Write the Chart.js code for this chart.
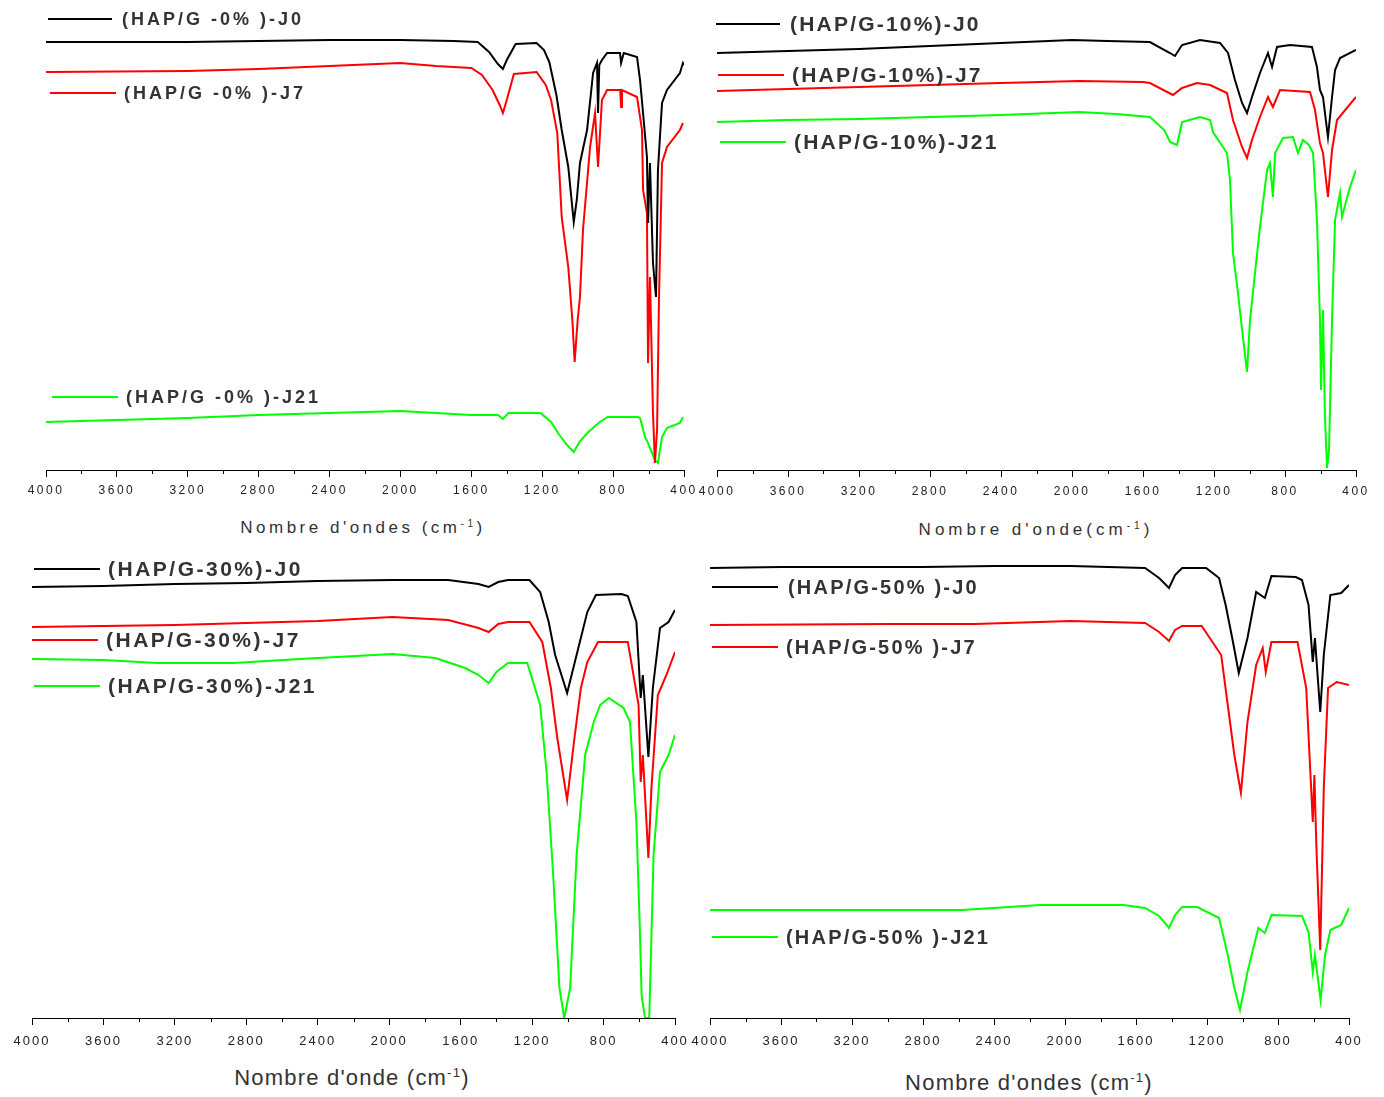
<!DOCTYPE html>
<html>
<head>
<meta charset="utf-8">
<script src="https://cdn.jsdelivr.net/npm/chart.js@4.4.1/dist/chart.umd.min.js"></script>
<style>
  body { margin: 0; background: #fff; width: 1384px; height: 1097px; position: relative; overflow: hidden;
         font-family: "Liberation Sans", Arial, sans-serif; }
  canvas { position: absolute; }
  .leg-line { position: absolute; height: 0; border-top: 2px solid #000; }
  .leg-text { position: absolute; font-weight: bold; color: #333; white-space: nowrap; line-height: 24px; }
  .xtitle { position: absolute; color: #333; white-space: nowrap; transform: translate(-50%, -50%); }
  .xtitle sup { font-size: 60%; }
</style>
</head>
<body>
<script>
// FTIR spectra, transmittance (a.u.) vs wavenumber (cm-1)

// HAP/G-0%
const w0_J0 = [4000,3600,3200,2800,2400,2000,1700,1564,1500,1450,1422,1400,1350,1232,1190,1160,1120,1090,1053,1022,1005,987,947,913,891,885,878,863,834,761,755,740,665,648,631,609,603,592,575,558,547,524,496,423,406,400];
const t0_J0 = [428,428,428,429,430,430,429,428,418,406,401,410,426,427,420,408,375,340,303,248,270,307,340,397,407,357,405,410,417,417,407,417,413,390,357,313,247,307,207,173,300,367,380,397,407,405];
const w0_J7 = [4000,3200,2800,2400,2000,1800,1600,1540,1480,1440,1422,1400,1360,1232,1180,1150,1115,1090,1053,1030,1017,1000,987,970,930,902,885,863,834,760,755,750,665,637,631,609,603,592,575,564,552,541,524,496,423,406];
const t0_J7 = [398,399,401,404,407,404,402,395,380,365,357,370,396,398,385,370,337,253,203,150,108,150,173,240,323,357,303,370,380,380,363,380,373,340,280,257,107,193,57,7,40,173,307,323,340,347];
const w0_J21 = [4000,3600,3200,2800,2400,2000,1800,1600,1450,1422,1390,1210,1150,1111,1060,1022,990,946,875,830,660,648,620,603,580,564,547,524,496,423,406];
const t0_J21 = [48,50,52,55,57,59,57,55,55,51,57,57,48,37,25,18,28,37,48,53,53,52,33,27,17,10,7,33,42,47,53];

// HAP/G-10%
const w10_J0 = [4000,3600,3200,2800,2400,2000,1800,1561,1448,1420,1380,1279,1166,1121,1082,1042,1014,986,941,896,873,845,772,648,620,603,586,558,535,518,490,400];
const t10_J0 = [417,419,421,424,427,430,429,428,417,414,425,430,427,417,390,367,357,373,397,417,403,423,425,423,403,380,373,333,373,400,412,420];
const w10_J7 = [4000,3600,3200,2800,2400,1960,1600,1561,1431,1380,1296,1222,1127,1093,1042,1014,986,941,896,868,828,659,631,603,586,558,535,507,400];
const t10_J7 = [379,381,383,385,387,389,388,387,375,382,387,385,377,350,323,312,330,353,373,363,380,378,360,327,317,273,320,350,373];
const w10_J21 = [4000,3600,3200,2800,2400,1960,1750,1561,1480,1448,1408,1380,1279,1222,1206,1127,1110,1093,1065,1037,1014,997,969,941,901,885,868,856,811,755,727,699,665,642,620,603,597,586,575,563,552,535,518,490,479,434,400];
const t10_J21 = [348,350,351,353,355,358,356,353,340,328,325,348,353,350,338,317,290,217,177,133,98,150,197,243,300,307,273,317,332,333,317,330,325,317,250,150,80,160,53,2,20,150,250,277,253,283,300];

// HAP/G-30%
const w30_J0 = [4000,3600,3200,2800,2400,1982,1670,1500,1443,1390,1335,1215,1155,1107,1071,1004,951,891,843,700,664,616,592,580,549,524,484,436,400];
const t30_J0 = [431,432,434,435,437,438,438,434,431,436,438,438,426,396,363,325,363,406,423,424,422,396,320,343,261,330,390,396,408];
const w30_J7 = [4000,3600,3200,2800,2400,1982,1670,1500,1443,1390,1335,1215,1143,1095,1059,1004,963,927,891,831,664,604,592,580,549,532,496,448,400];
const t30_J7 = [391,392,393,395,397,401,398,390,386,394,396,396,376,330,280,218,280,330,356,376,376,313,236,263,160,230,323,343,366];
const w30_J21 = [4000,3600,3300,2870,2500,1982,1742,1575,1500,1443,1400,1335,1227,1155,1119,1083,1047,1020,987,951,903,855,819,771,688,652,616,597,587,568,544,520,484,436,400];
const t30_J21 = [359,358,355,355,359,364,360,350,343,335,346,355,355,313,246,146,30,0,30,163,263,296,313,320,310,296,196,90,23,0,0,163,246,263,283];

// HAP/G-50%
const w50_J0 = [4000,3600,3200,2800,2400,1967,1549,1470,1414,1380,1340,1205,1132,1095,1058,1021,972,923,874,837,700,665,628,604,592,562,542,505,444,400];
const t50_J0 = [450,451,451,451,452,452,450,440,430,443,450,450,440,413,380,345,380,426,420,442,441,438,413,356,380,306,363,423,425,433];
const w50_J7 = [4000,3000,2507,1967,1549,1470,1414,1380,1340,1230,1120,1083,1046,1009,972,923,886,869,837,690,641,604,595,584,562,542,518,469,400];
const t50_J7 = [393,394,394,397,395,386,377,388,392,392,363,313,263,225,296,353,370,346,376,376,330,196,243,173,68,230,330,336,333];
const w50_J21 = [4000,3400,2580,2140,1845,1672,1549,1470,1414,1380,1340,1255,1132,1083,1046,1014,972,911,874,837,665,628,604,592,560,535,505,444,400];
const t50_J21 = [108,108,108,113,113,113,110,102,90,103,111,111,100,63,30,8,46,90,85,103,102,86,46,63,18,63,88,93,110];

const COLORS = ['#000000', '#ff0000', '#00ff00'];

// layout: plot = chart area in page pixels, legend = [lineX1, lineX2, y, textX]
const panels = [
  { plot: { left: 46, right: 684, top: 8, bottom: 470 }, yMax: 462, tickSize: 12, tickSpacing: '2.5px', tickPad: 6,
    series: [['(HAP/G -0% )-J0', w0_J0, t0_J0], ['(HAP/G -0% )-J7', w0_J7, t0_J7], ['(HAP/G -0% )-J21', w0_J21, t0_J21]],
    legend: [[48, 112, 19, 122], [50, 116, 93, 124], [52, 118, 397, 126]], legendFont: [18, '3px'],
    title: { html: "Nombre d'ondes (cm<sup>-1</sup>)", x: 363, y: 528, size: 17, spacing: '3.5px' } },
  { plot: { left: 717, right: 1356, top: 8, bottom: 470 }, yMax: 462, tickSize: 12, tickSpacing: '2.5px', tickPad: 7,
    series: [['(HAP/G-10%)-J0', w10_J0, t10_J0], ['(HAP/G-10%)-J7', w10_J7, t10_J7], ['(HAP/G-10%)-J21', w10_J21, t10_J21]],
    legend: [[716, 780, 24, 790], [718, 784, 75, 792], [720, 786, 142, 794]], legendFont: [21, '2.2px'],
    title: { html: "Nombre d'onde(cm<sup>-1</sup>)", x: 1036, y: 530, size: 17, spacing: '4px' } },
  { plot: { left: 32, right: 675, top: 553, bottom: 1018 }, yMax: 465, tickSize: 13, tickSpacing: '2px', tickPad: 9,
    series: [['(HAP/G-30%)-J0', w30_J0, t30_J0], ['(HAP/G-30%)-J7', w30_J7, t30_J7], ['(HAP/G-30%)-J21', w30_J21, t30_J21]],
    legend: [[34, 100, 569, 108], [32, 98, 640, 106], [34, 100, 686, 108]], legendFont: [21, '2.5px'],
    title: { html: "Nombre d'onde (cm<sup>-1</sup>)", x: 352, y: 1078, size: 22, spacing: '1.2px' } },
  { plot: { left: 710, right: 1349, top: 553, bottom: 1018 }, yMax: 465, tickSize: 13, tickSpacing: '2px', tickPad: 9,
    series: [['(HAP/G-50% )-J0', w50_J0, t50_J0], ['(HAP/G-50% )-J7', w50_J7, t50_J7], ['(HAP/G-50% )-J21', w50_J21, t50_J21]],
    legend: [[712, 778, 587, 788], [712, 778, 647, 786], [712, 778, 937, 786]], legendFont: [20, '2.2px'],
    title: { html: "Nombre d'ondes (cm<sup>-1</sup>)", x: 1029, y: 1083, size: 22, spacing: '1.2px' } }
];

const PAD_X = 30, PAD_TOP = 8, AXIS_H = 40;

// canvas letter spacing for the tick labels
const spacingPlugin = {
  id: 'spacing',
  beforeDraw(chart, args, opts) { chart.ctx.letterSpacing = opts.value || '0px'; },
  afterDraw(chart) { chart.ctx.letterSpacing = '0px'; }
};

// shorter unlabeled ticks every 200 cm-1
const minorTicks = {
  id: 'minorTicks',
  afterDraw(chart) {
    const s = chart.scales.x, ctx = chart.ctx;
    ctx.save();
    ctx.strokeStyle = '#000';
    ctx.lineWidth = 1;
    s.ticks.forEach(t => {
      if (t.value % 400 === 0) return;
      const x = Math.round(s.getPixelForValue(t.value)) + 0.5;
      ctx.beginPath();
      ctx.moveTo(x, s.top);
      ctx.lineTo(x, s.top + 4);
      ctx.stroke();
    });
    ctx.restore();
  }
};

panels.forEach(p => {
  const canvas = document.createElement('canvas');
  const w = p.plot.right - p.plot.left + 2 * PAD_X;
  const h = PAD_TOP + (p.plot.bottom - p.plot.top) + AXIS_H;
  canvas.width = w;
  canvas.height = h;
  canvas.style.left = (p.plot.left - PAD_X) + 'px';
  canvas.style.top = (p.plot.top - PAD_TOP) + 'px';
  document.body.appendChild(canvas);

  new Chart(canvas.getContext('2d'), {
    type: 'line',
    data: {
      datasets: p.series.map(([label, xs, ys], i) => ({
        label,
        data: xs.map((x, k) => ({ x, y: ys[k] })),
        borderColor: COLORS[i],
        borderWidth: 2,
        pointRadius: 0,
        tension: 0,
        fill: false
      }))
    },
    options: {
      animation: false,
      responsive: false,
      maintainAspectRatio: false,
      layout: { padding: { left: PAD_X, right: PAD_X, top: PAD_TOP, bottom: 0 } },
      plugins: {
        legend: { display: false },
        tooltip: { enabled: false },
        spacing: { value: p.tickSpacing }
      },
      scales: {
        x: {
          type: 'linear',
          reverse: true,
          min: 400,
          max: 4000,
          afterFit(scale) { scale.height = AXIS_H; },
          border: { display: true, color: '#000', width: 1 },
          grid: {
            drawOnChartArea: false,
            drawTicks: true,
            tickLength: 7,
            tickWidth: 1,
            tickColor: c => (c.tick && c.tick.value % 400 === 0) ? '#000' : 'rgba(0,0,0,0)'
          },
          ticks: {
            stepSize: 200,
            autoSkip: false,
            maxRotation: 0,
            padding: p.tickPad,
            color: '#222',
            font: { family: 'Liberation Sans', size: p.tickSize },
            callback: v => (v % 400 === 0 ? String(v) : '')
          }
        },
        y: { display: false, min: 0, max: p.yMax }
      }
    },
    plugins: [spacingPlugin, minorTicks]
  });
});

// legends and axis titles on top
panels.forEach(p => {
  p.legend.forEach(([x1, x2, y, tx], i) => {
    const line = document.createElement('div');
    line.className = 'leg-line';
    line.style.left = x1 + 'px';
    line.style.width = (x2 - x1) + 'px';
    line.style.top = (y - 1) + 'px';
    line.style.borderTopColor = COLORS[i];
    document.body.appendChild(line);

    const txt = document.createElement('div');
    txt.className = 'leg-text';
    txt.style.left = tx + 'px';
    txt.style.top = (y - 12) + 'px';
    txt.style.fontSize = p.legendFont[0] + 'px';
    txt.style.letterSpacing = p.legendFont[1];
    txt.textContent = p.series[i][0];
    document.body.appendChild(txt);
  });
  const t = document.createElement('div');
  t.className = 'xtitle';
  t.style.left = p.title.x + 'px';
  t.style.top = p.title.y + 'px';
  t.style.fontSize = p.title.size + 'px';
  t.style.letterSpacing = p.title.spacing;
  t.innerHTML = p.title.html;
  document.body.appendChild(t);
});
</script>
</body>
</html>
